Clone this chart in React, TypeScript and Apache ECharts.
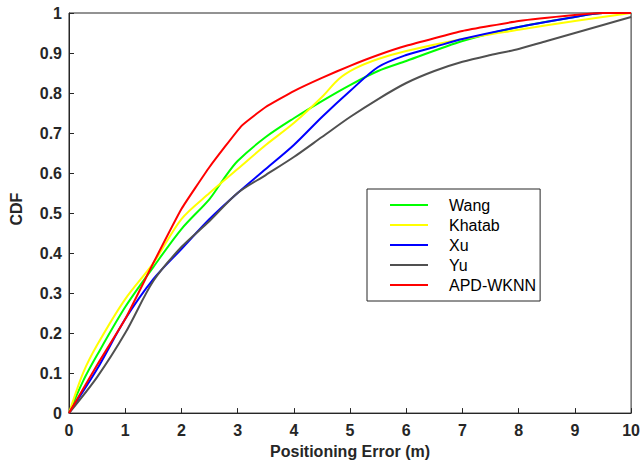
import React, { useEffect, useRef } from "react";
import * as echarts from "echarts";

const seriesNames = ["Wang", "Khatab", "Xu", "Yu", "APD-WKNN"];
const seriesColors = ["#00ff00", "#ffff00", "#0000ff", "#505050", "#ff0000"];
const seriesSmooth = [0.3, 0.3, 0.3, 0.3, 0.12];

const wang = [[0,0],[0.25,0.08],[0.5,0.145],[1,0.265],[1.5,0.365],[2,0.46],[2.5,0.535],[2.75,0.585],[3,0.63],[3.5,0.69],[4,0.737],[4.5,0.78],[5,0.82],[5.5,0.855],[6,0.88],[7,0.93],[8,0.965],[9,0.99],[9.5,1],[10,1]];
const khatab = [[0,0],[0.25,0.1],[0.5,0.17],[1,0.285],[1.5,0.375],[2,0.485],[2.5,0.55],[3,0.61],[3.5,0.67],[4,0.725],[4.5,0.79],[4.8,0.835],[5.1,0.862],[5.5,0.885],[6,0.905],[7,0.935],[8,0.958],[9,0.98],[10,1]];
const xu = [[0,0],[0.5,0.11],[1,0.235],[1.5,0.335],[2,0.41],[2.5,0.485],[3,0.55],[3.5,0.61],[4,0.67],[4.5,0.74],[5,0.805],[5.5,0.865],[6,0.895],[6.5,0.915],[7,0.935],[8,0.965],[9,0.99],[9.5,1],[10,1]];
const yu = [[0,0],[0.5,0.09],[1,0.2],[1.5,0.33],[2,0.415],[2.5,0.48],[3,0.55],[3.5,0.595],[4,0.64],[4.5,0.69],[5,0.74],[5.5,0.785],[6,0.825],[6.5,0.855],[7,0.878],[7.5,0.895],[8,0.91],[8.5,0.93],[9,0.95],[9.5,0.97],[10,0.99]];
const apd = [[0,0],[0.5,0.12],[1,0.235],[1.5,0.375],[2,0.51],[2.5,0.615],[3.07,0.718],[3.5,0.765],[4,0.805],[4.5,0.838],[5,0.868],[5.5,0.895],[6,0.918],[7,0.955],[8,0.98],[9,0.995],[9.5,1],[10,1]];
const seriesData = [wang, khatab, xu, yu, apd];

export default function App() {
  const ref = useRef<HTMLDivElement>(null);
  useEffect(() => {
    const chart = echarts.init(ref.current!, null, { renderer: "svg" });
    const axisColor = "#262626";
    const font = "Arial, 'Liberation Sans', sans-serif";
    chart.setOption({
      animation: false,
      backgroundColor: "#ffffff",
      grid: {
        left: 68,
        right: 9,
        top: 13,
        bottom: 48,
        show: true,
        borderColor: axisColor,
        borderWidth: 1,
        backgroundColor: "transparent",
      },
      legend: {
        orient: "vertical",
        left: 367,
        top: 189,
        data: seriesNames,
        backgroundColor: "#ffffff",
        borderColor: axisColor,
        borderWidth: 1,
        borderRadius: 0,
        padding: [8, 4, 8, 22],
        itemWidth: 38,
        itemHeight: 14,
        itemGap: 4,
        itemStyle: { opacity: 0, borderWidth: 0 },
        lineStyle: { width: 2 },
        textStyle: {
          fontFamily: font,
          fontSize: 16,
          lineHeight: 16,
          color: "#000000",
          padding: [0, 0, 0, 16],
        },
      },
      xAxis: {
        type: "value",
        min: 0,
        max: 10,
        interval: 1,
        name: "Positioning Error (m)",
        nameLocation: "middle",
        nameGap: 28,
        nameTextStyle: { fontFamily: font, fontSize: 16, fontWeight: "bold", color: axisColor },
        axisLine: { show: true, lineStyle: { color: axisColor, width: 1 } },
        axisTick: { show: true, inside: true, length: 5, lineStyle: { color: axisColor } },
        axisLabel: { fontFamily: font, fontSize: 16, fontWeight: "bold", color: axisColor, margin: 9 },
        splitLine: { show: false },
      },
      yAxis: {
        type: "value",
        min: 0,
        max: 1,
        interval: 0.1,
        name: "CDF",
        nameLocation: "middle",
        nameGap: 45,
        nameTextStyle: { fontFamily: font, fontSize: 16, fontWeight: "bold", color: axisColor, padding: [0, 0, 0, 8] },
        axisLine: { show: true, lineStyle: { color: axisColor, width: 1 } },
        axisTick: { show: true, inside: true, length: 5, lineStyle: { color: axisColor } },
        axisLabel: { fontFamily: font, fontSize: 16, fontWeight: "bold", color: axisColor, margin: 7 },
        splitLine: { show: false },
      },
      series: seriesNames.map((name, i) => ({
        name,
        type: "line",
        data: seriesData[i],
        symbol: "none",
        showSymbol: false,
        smooth: seriesSmooth[i],
        color: seriesColors[i],
        lineStyle: { color: seriesColors[i], width: 2 },
      })),
    });
    return () => chart.dispose();
  }, []);
  return <div ref={ref} style={{ width: 643, height: 464, position: "absolute", left: 0, top: 0 }} />;
}
